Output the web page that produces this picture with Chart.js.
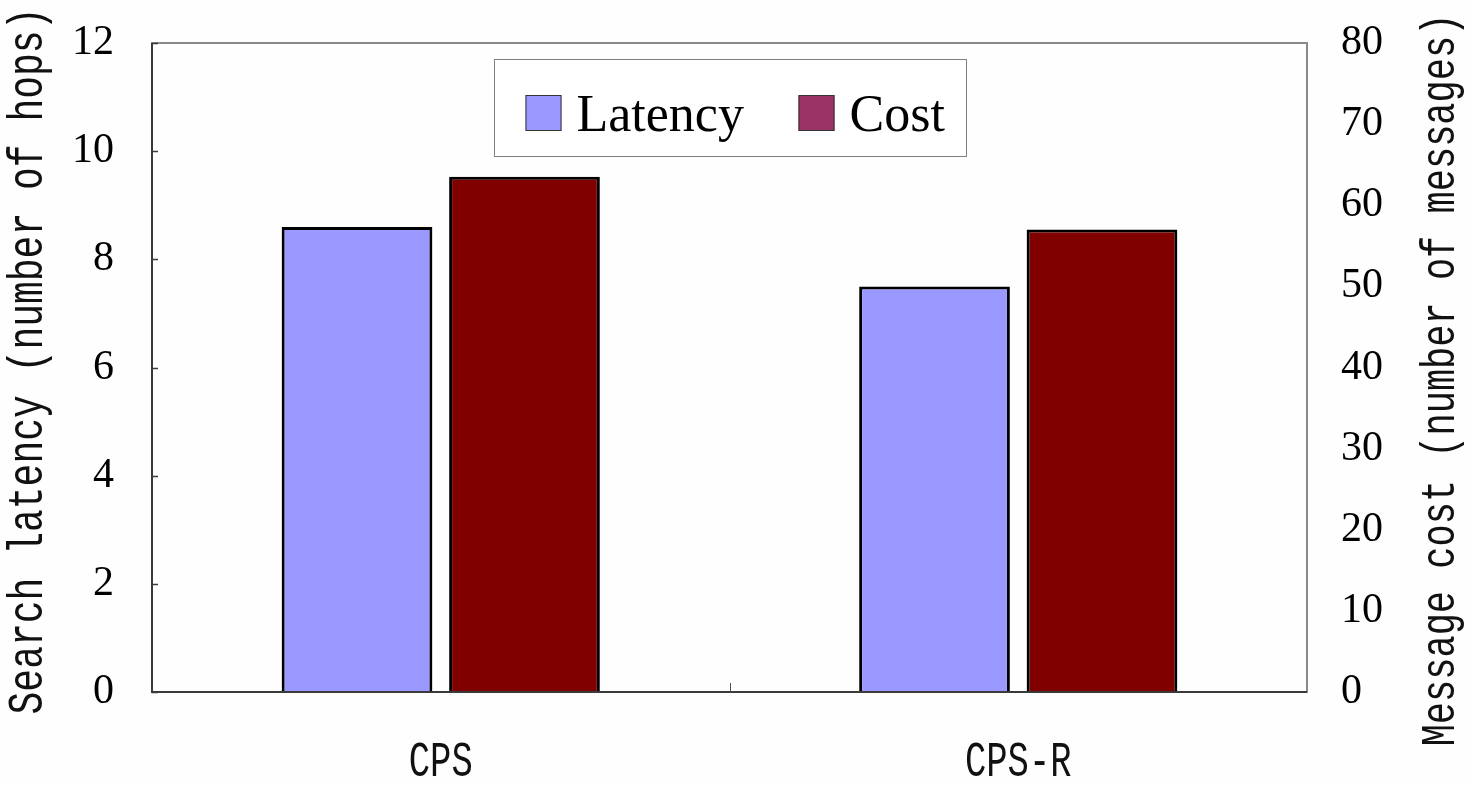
<!DOCTYPE html>
<html>
<head>
<meta charset="utf-8">
<title>Search latency and message cost</title>
<script src="https://cdn.jsdelivr.net/npm/chart.js@4/dist/chart.umd.min.js"></script>
<style>
  html, body { margin: 0; padding: 0; background: #fefefe; }
  #wrap { width: 1470px; height: 785px; }
</style>
</head>
<body>
<div id="wrap"><canvas id="chart" width="1470" height="785"></canvas></div>
<script>
// ---- data ----
const categories = ['CPS', 'CPS-R'];
const seriesNames = ['Latency', 'Cost'];
const latencyHops = [8.6, 7.5];     // left axis, number of hops
const costMessages = [63.5, 57.0];  // right axis, number of messages
const latencyTicks = [0, 2, 4, 6, 8, 10, 12];
const costTicks = [0, 10, 20, 30, 40, 50, 60, 70, 80];
const leftTitle = 'Search latency (number of hops)';
const rightTitle = 'Message cost (number of messages)';

// ---- styles ----
const barFills = ['#9999FF', '#800000'];
const legendFills = ['#9999FF', '#993366'];
const SERIF = '"Liberation Serif", "Times New Roman", serif';
const MONO = '"Liberation Mono", "Courier New", monospace';

// Draws the frame, inner tick marks, axis titles, category labels and the legend box.
const decorations = {
  id: 'decorations',
  afterDatasetsDraw(chart) {
    const ctx = chart.ctx;
    const a = chart.chartArea;
    const yL = chart.scales.y;
    const xS = chart.scales.x;
    ctx.save();

    // plot frame
    ctx.strokeStyle = '#8a8a8a';
    ctx.lineWidth = 2;
    ctx.strokeRect(a.left, a.top, a.right - a.left, a.bottom - a.top);
    ctx.strokeStyle = '#3a3a3a';
    ctx.beginPath();
    ctx.moveTo(a.left, a.top);
    ctx.lineTo(a.left, a.bottom);
    ctx.lineTo(a.right, a.bottom);
    ctx.stroke();

    // inner tick marks on the left axis
    ctx.lineWidth = 1.5;
    ctx.strokeStyle = '#3a3a3a';
    latencyTicks.forEach(v => {
      const py = Math.round(yL.getPixelForValue(v)) + 0.5;
      ctx.beginPath();
      ctx.moveTo(a.left, py);
      ctx.lineTo(a.left + 6, py);
      ctx.stroke();
    });
    // category divider tick on the bottom axis
    for (let i = 0; i < categories.length - 1; i++) {
      const px = Math.round((xS.getPixelForTick(i) + xS.getPixelForTick(i + 1)) / 2) + 0.5;
      ctx.strokeStyle = '#555';
      ctx.lineWidth = 1;
      ctx.beginPath();
      ctx.moveTo(px, a.bottom);
      ctx.lineTo(px, a.bottom - 9);
      ctx.stroke();
    }

    // category labels (tall monospace)
    ctx.fillStyle = '#111';
    ctx.font = '37px ' + MONO;
    ctx.textAlign = 'center';
    ctx.textBaseline = 'middle';
    categories.forEach((c, i) => {
      ctx.save();
      ctx.translate(xS.getPixelForTick(i), 763);
      ctx.scale(0.96, 1.35);
      ctx.fillText(c, 0, 0);
      ctx.restore();
    });

    // axis titles, reading bottom to top
    const drawTitle = (text, size, cx, cy) => {
      ctx.save();
      ctx.translate(cx, cy);
      ctx.rotate(-Math.PI / 2);
      ctx.scale(1, 1.3);
      ctx.font = size + 'px ' + MONO;
      ctx.fillText(text, 0, 0);
      ctx.restore();
    };
    drawTitle(leftTitle, 38, 29, 361);
    drawTitle(rightTitle, 37, 1441, 380);

    // legend box
    const bw = 472, bh = 97;
    const bx = Math.round((a.left + a.right) / 2 - bw / 2) + 0.5;
    const by = 59.5;
    ctx.fillStyle = '#ffffff';
    ctx.fillRect(bx, by, bw, bh);
    ctx.strokeStyle = '#808080';
    ctx.lineWidth = 1;
    ctx.strokeRect(bx, by, bw, bh);
    ctx.font = '52px ' + SERIF;
    ctx.textAlign = 'left';
    ctx.textBaseline = 'alphabetic';
    const entryX = [bx + 31, bx + 304];
    seriesNames.forEach((name, i) => {
      const sx = entryX[i];
      ctx.fillStyle = legendFills[i];
      ctx.fillRect(sx, 95, 36, 36);
      ctx.strokeStyle = '#333';
      ctx.lineWidth = 1;
      ctx.strokeRect(sx + 0.5, 95.5, 35, 35);
      ctx.fillStyle = '#000';
      ctx.fillText(name, sx + 51, 131);
    });

    ctx.restore();
  }
};

// fixed axis sizes so the plot box sits at 152..1307 x 43..692
const fixVertical = width => s => {
  s.width = width;
  s.paddingTop = 0;
  s.paddingBottom = 0;
};

new Chart(document.getElementById('chart'), {
  type: 'bar',
  data: {
    labels: categories,
    datasets: [
      {
        label: seriesNames[0],
        data: latencyHops,
        yAxisID: 'y',
        backgroundColor: barFills[0],
        borderColor: '#000',
        borderWidth: 3
      },
      {
        label: seriesNames[1],
        data: costMessages,
        yAxisID: 'y1',
        backgroundColor: barFills[1],
        borderColor: '#000',
        borderWidth: 3
      }
    ]
  },
  options: {
    responsive: false,
    animation: false,
    devicePixelRatio: 1,
    categoryPercentage: 0.58,
    barPercentage: 0.9,
    layout: { padding: { top: 43, left: 0, right: 0, bottom: 0 } },
    plugins: {
      legend: { display: false },
      tooltip: { enabled: false }
    },
    scales: {
      x: {
        grid: { display: false },
        border: { display: false },
        ticks: { display: false },
        afterFit(s) { s.height = 93; s.paddingLeft = 0; s.paddingRight = 0; }
      },
      y: {
        position: 'left',
        min: 0,
        max: 12,
        afterBuildTicks(s) { s.ticks = latencyTicks.map(v => ({ value: v })); },
        ticks: {
          color: '#000',
          padding: 38,
          font: { family: SERIF, size: 42 }
        },
        grid: { display: false, drawTicks: false },
        border: { display: false },
        afterFit: fixVertical(152)
      },
      y1: {
        position: 'right',
        min: 0,
        max: 80,
        afterBuildTicks(s) { s.ticks = costTicks.map(v => ({ value: v })); },
        ticks: {
          color: '#000',
          padding: 34,
          font: { family: SERIF, size: 42 }
        },
        grid: { display: false, drawTicks: false },
        border: { display: false },
        afterFit: fixVertical(163)
      }
    }
  },
  plugins: [decorations]
});
</script>
</body>
</html>
